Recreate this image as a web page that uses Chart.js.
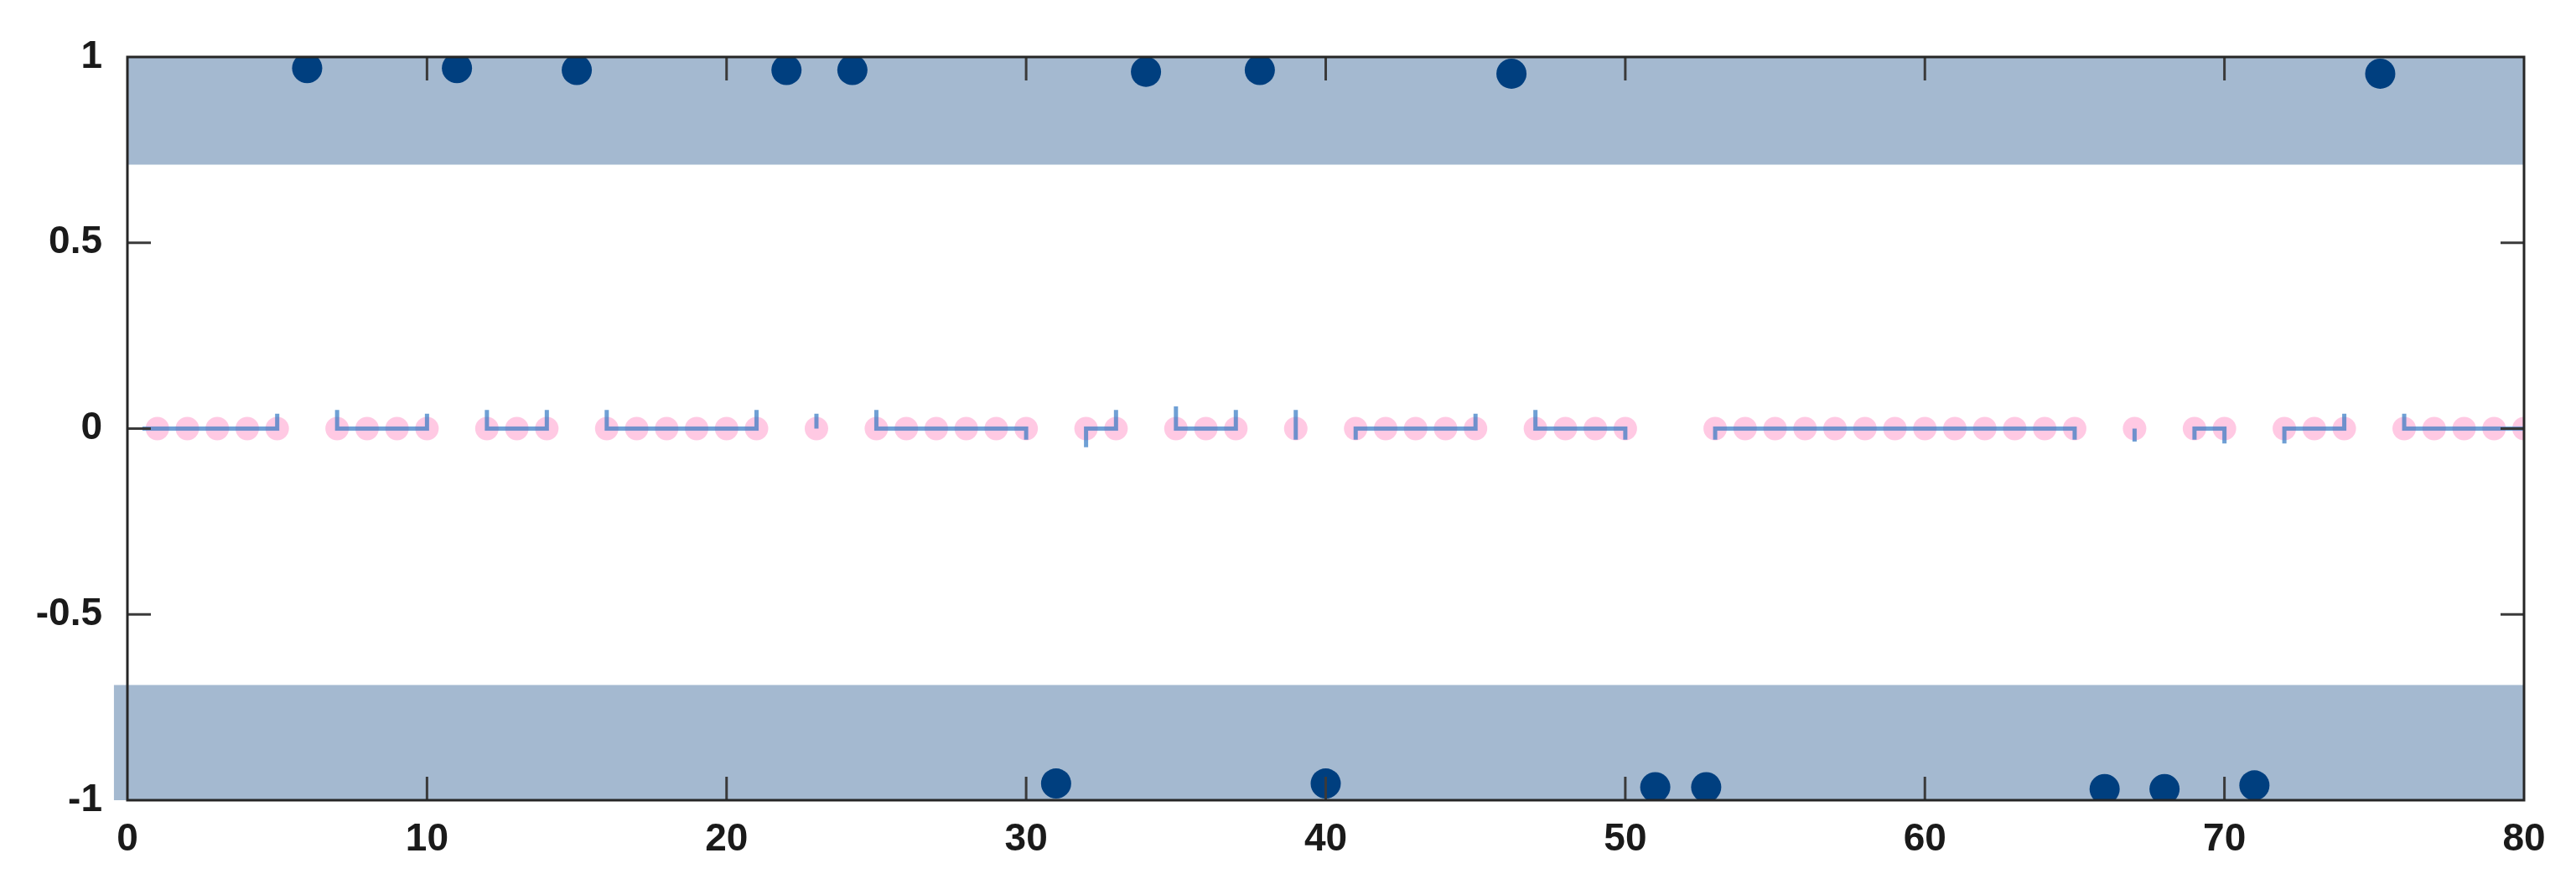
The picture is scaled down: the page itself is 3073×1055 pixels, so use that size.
<!DOCTYPE html>
<html>
<head>
<meta charset="utf-8">
<script src="https://cdn.jsdelivr.net/npm/chart.js@4.4.1/dist/chart.umd.min.js"></script>
<style>
  html, body { margin: 0; padding: 0; background: #fff; }
  #wrap { width: 3073px; height: 1055px; }
</style>
</head>
<body>
<div id="wrap"><canvas id="chart"></canvas></div>
<script>
// pink markers on the zero line
const pinkX = [1,2,3,4,5, 7,8,9,10, 12,13,14, 16,17,18,19,20,21, 23, 25,26,27,28,29,30,
    32,33, 35,36,37, 39, 41,42,43,44,45, 47,48,49,50,
    53,54,55,56,57,58,59,60,61,62,63,64,65, 67, 69,70, 72,73,74, 76,77,78,79,80];

// dark markers near +1 / -1
const upX = [6, 11, 15, 22, 24.2, 34, 37.8, 46.2, 75.2];
const upY = [0.97, 0.97, 0.965, 0.965, 0.965, 0.96, 0.965, 0.955, 0.955];
const downX = [31, 40, 51, 52.7, 66, 68, 71];
const downY = [-0.955, -0.955, -0.965, -0.965, -0.97, -0.97, -0.96];

// thin blue segments along zero: start, end, end-flick at start and at end
const segStart = [0.5, 7, 12, 16, 23, 25, 32, 35, 39, 41, 47, 53, 67, 69, 72, 76];
const segEnd   = [5, 10, 14, 21, 23, 30, 33, 37, 39, 45, 50, 65, 67, 70, 74, 80];
const flickStart = [0, 0.05, 0.05, 0.05, 0, 0.05, -0.05, 0.06, 0.05, -0.03, 0.05, -0.03, 0, -0.03, -0.04, 0.04];
const flickEnd   = [0.04, 0.04, 0.05, 0.05, 0.04, -0.03, 0.05, 0.05, -0.03, 0.04, -0.03, -0.03, -0.035, -0.04, 0.04, 0];

// shaded bands
const bandTop = [0.71, 1];
const bandBottom = [-1, -0.69];
const xTicks = [0, 10, 20, 30, 40, 50, 60, 70, 80];
const yTicks = [-1, -0.5, 0, 0.5, 1];

const segData = [];
segStart.forEach((s, i) => {
    segData.push({ x: s, y: flickStart[i] });
    segData.push({ x: s, y: 0 });
    segData.push({ x: segEnd[i], y: 0 });
    segData.push({ x: segEnd[i], y: flickEnd[i] });
    segData.push({ x: segEnd[i], y: null });
});

const bandColor = 'rgba(164,185,208,1)';
const darkBlue = '#003f7f';

// small overhang of the lower band left of the axis, as in the original figure
const overhangPlugin = {
    id: 'overhang',
    beforeDatasetsDraw(chart) {
        const { ctx, scales: { x, y } } = chart;
        const x0 = x.getPixelForValue(-0.45), x1 = x.getPixelForValue(0);
        const y0 = y.getPixelForValue(bandBottom[1]), y1 = y.getPixelForValue(bandBottom[0]);
        ctx.save();
        ctx.fillStyle = bandColor;
        ctx.fillRect(x0, y0, x1 - x0, y1 - y0);
        ctx.restore();
    }
};

const framePlugin = {
    id: 'frame',
    afterDatasetsDraw(chart) {
        const { ctx, chartArea: a, scales: { x, y } } = chart;
        ctx.save();
        ctx.strokeStyle = '#3a3a3a';
        ctx.lineWidth = 3;
        const len = 28;
        ctx.beginPath();
        xTicks.slice(1, -1).forEach(v => {
            const px = x.getPixelForValue(v);
            ctx.moveTo(px, a.bottom); ctx.lineTo(px, a.bottom - len);
            ctx.moveTo(px, a.top); ctx.lineTo(px, a.top + len);
        });
        yTicks.slice(1, -1).forEach(v => {
            const py = y.getPixelForValue(v);
            ctx.moveTo(a.left, py); ctx.lineTo(a.left + len, py);
            ctx.moveTo(a.right, py); ctx.lineTo(a.right - len, py);
        });
        ctx.stroke();
        ctx.strokeStyle = '#262626';
        ctx.strokeRect(a.left, a.top, a.right - a.left, a.bottom - a.top);
        ctx.restore();
    }
};

const tickFont = { family: 'Liberation Sans, Arial, sans-serif', size: 46, weight: 'bold' };

new Chart(document.getElementById('chart'), {
    type: 'scatter',
    data: {
        datasets: [
            {
                type: 'line',
                data: [{ x: 0, y: bandTop[1] }, { x: 80, y: bandTop[1] }],
                borderWidth: 0, pointRadius: 0,
                backgroundColor: bandColor,
                fill: { value: bandTop[0] },
                order: 10
            },
            {
                type: 'line',
                data: [{ x: 0, y: bandBottom[1] }, { x: 80, y: bandBottom[1] }],
                borderWidth: 0, pointRadius: 0,
                backgroundColor: bandColor,
                fill: { value: bandBottom[0] },
                order: 9
            },
            {
                data: pinkX.map(v => ({ x: v, y: 0 })),
                pointRadius: 14,
                pointBackgroundColor: 'rgba(255,192,222,0.85)',
                pointBorderWidth: 0,
                order: 5
            },
            {
                type: 'line',
                data: segData,
                borderColor: 'rgba(50,120,195,0.7)',
                borderWidth: 5,
                pointRadius: 0,
                spanGaps: false,
                fill: false,
                order: 4
            },
            {
                data: upX.map((v, i) => ({ x: v, y: upY[i] })),
                pointRadius: 18,
                pointBackgroundColor: darkBlue,
                pointBorderWidth: 0,
                order: 1
            },
            {
                data: downX.map((v, i) => ({ x: v, y: downY[i] })),
                pointRadius: 18,
                pointBackgroundColor: darkBlue,
                pointBorderWidth: 0,
                order: 1
            }
        ]
    },
    options: {
        responsive: true,
        maintainAspectRatio: false,
        animation: false,
        layout: { padding: { top: 68, right: 62, left: 0, bottom: 0 } },
        plugins: { legend: { display: false }, tooltip: { enabled: false } },
        scales: {
            x: {
                type: 'linear', min: 0, max: 80,
                afterBuildTicks: s => { s.ticks = xTicks.map(v => ({ value: v })); },
                grid: { display: false }, border: { display: false },
                ticks: { font: tickFont, color: '#1a1a1a', padding: 12, maxRotation: 0, callback: v => String(v) },
                afterFit: s => { s.height = 100; }
            },
            y: {
                type: 'linear', min: -1, max: 1,
                afterBuildTicks: s => { s.ticks = yTicks.map(v => ({ value: v })); },
                grid: { display: false }, border: { display: false },
                ticks: { font: tickFont, color: '#1a1a1a', padding: 22, callback: v => String(v) },
                afterFit: s => { s.width = 152; }
            }
        }
    },
    plugins: [overhangPlugin, framePlugin]
});
</script>
</body>
</html>
